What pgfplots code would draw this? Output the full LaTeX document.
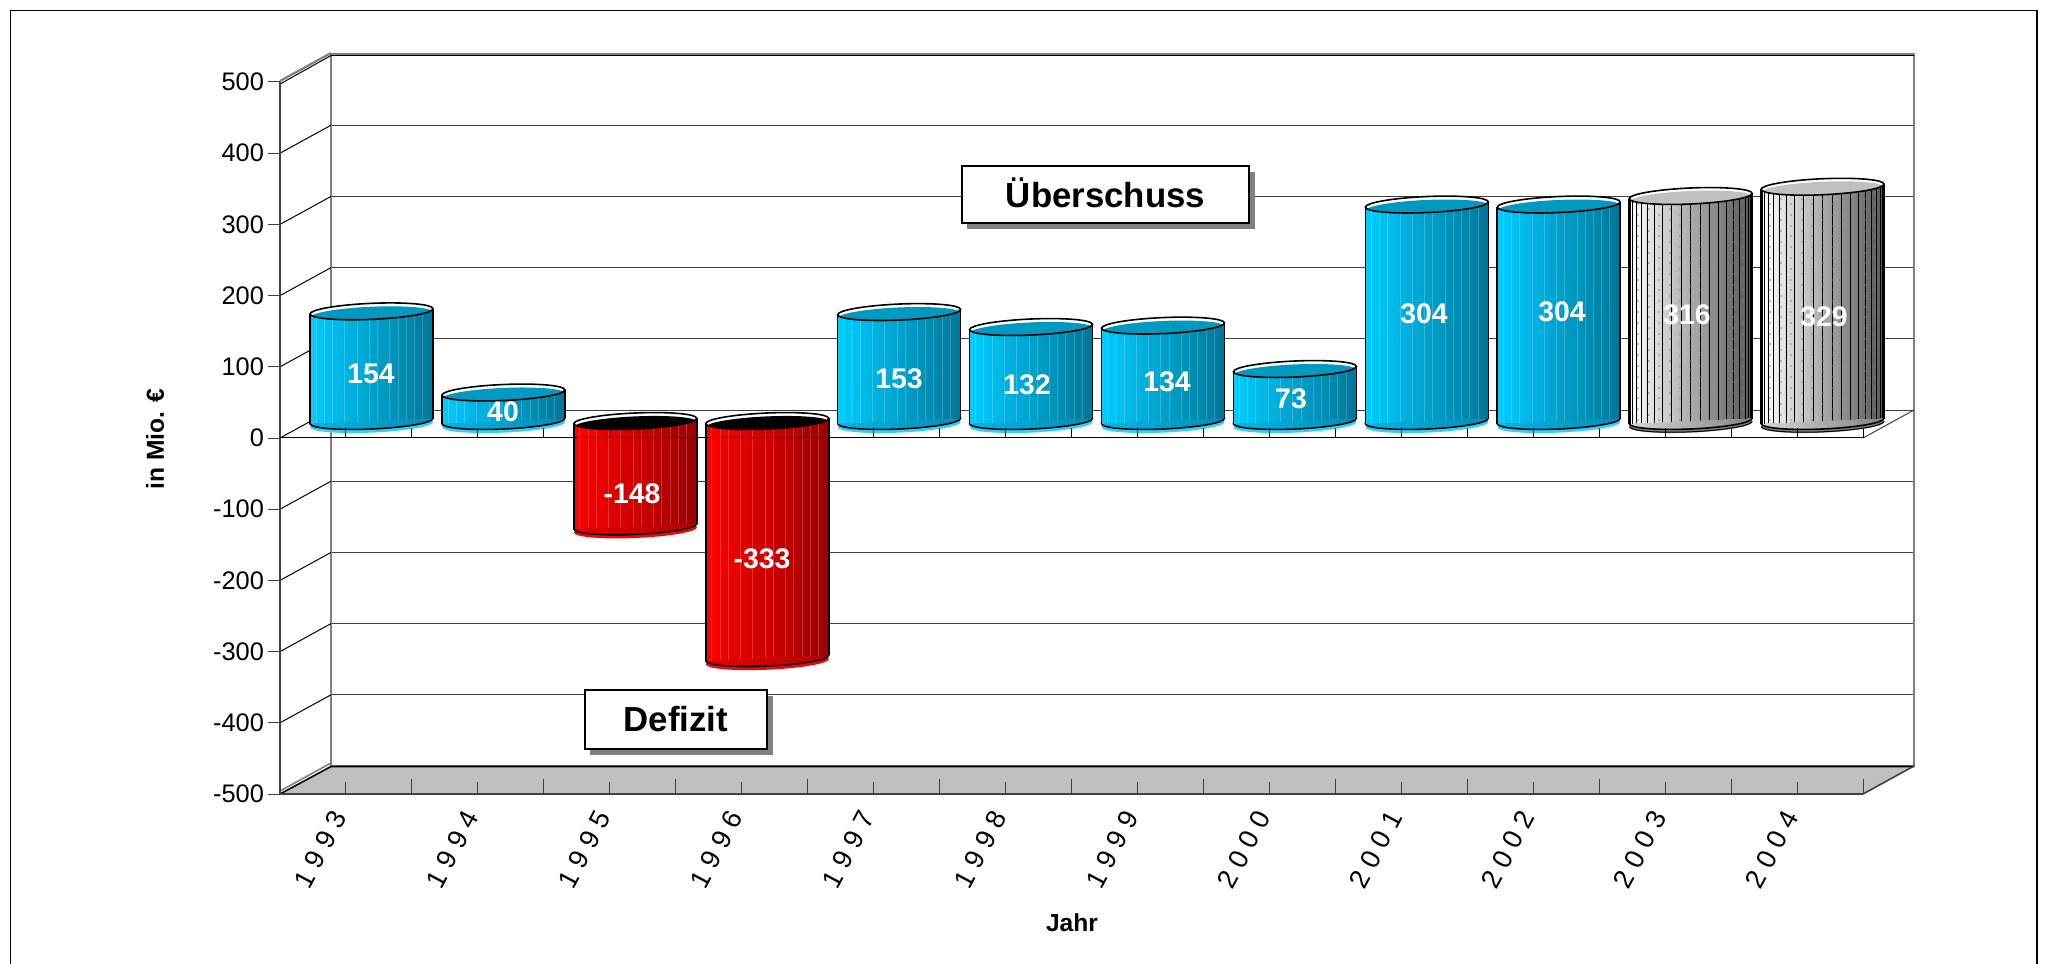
\documentclass[border=0pt]{standalone}
\usepackage{pgfplots}
\usepackage{pgfplotstable}
\pgfplotsset{compat=1.18}
\usepackage{fontspec}
\setmainfont{Liberation Sans}
\newfontfamily\spaced[LetterSpace=27]{Liberation Sans}

\definecolor{wall}{HTML}{808080}
\definecolor{floorgray}{HTML}{C0C0C0}
\definecolor{gridc}{HTML}{404040}
\definecolor{cyL}{HTML}{00CCFF}
\definecolor{cyR}{HTML}{00789A}
\definecolor{cyTop}{HTML}{0099BF}
\definecolor{reL}{HTML}{FF0000}
\definecolor{reR}{HTML}{9C0000}
\definecolor{grL}{HTML}{FFFFFF}
\definecolor{grR}{HTML}{5A5A5A}

% bar values, x = category position on the axis
\pgfplotstableread{
x v
0.5 154
1.5 40
4.5 153
5.5 132
6.5 134
7.5 73
8.5 304
9.5 304
}\cyandata
\pgfplotstableread{
x v
2.5 -148
3.5 -333
}\reddata
\pgfplotstableread{
x v
10.5 316
11.5 329
}\graydata

% cylinder caps, 1 px of the reference = 0.5pt
\newcommand\barell[2]{\pgfpathellipse{\pgfpoint{#1}{#2}}{\pgfpoint{30.75pt}{0pt}}{\pgfpoint{0pt}{4pt}}}
\newcommand\toprim[2]{%
  \pgftransformrotate{2.5}\pgfsetlinewidth{0.8pt}\pgfsetstrokecolor{black}%
  \pgfsetfillcolor{white}\barell{0pt}{0pt}\pgfusepath{fill}%
  \pgfscope\barell{0pt}{0pt}\pgfusepath{clip}%
  \pgfsetfillcolor{#1}\barell{0pt}{#2}\pgfusepath{fill}\endpgfscope
  \barell{0pt}{0pt}\pgfusepath{stroke}}
\newcommand\lowarc[1]{\pgfpathmoveto{\pgfpoint{-30.75pt}{#1}}\pgfpatharc{180}{360}{30.75pt and 4pt}}
\newcommand\botcap[2]{%
  \pgftransformrotate{2.5}\pgfsetlinewidth{0.8pt}\pgfsetstrokecolor{black}%
  \pgfsetfillcolor{#1}\barell{0pt}{-1.8pt}\pgfusepath{fill}%
  \pgfscope\barell{0pt}{0pt}\pgfshadepath{#2}{0}\endpgfscope
  \lowarc{0pt}\pgfusepath{stroke}}

\pgfdeclarehorizontalshading{cyanbody}{100bp}{color(0bp)=(cyL); color(100bp)=(cyR)}
\pgfdeclarehorizontalshading{redbody}{100bp}{color(0bp)=(reL); color(100bp)=(reR)}
\pgfdeclarehorizontalshading{graybody}{100bp}{color(0bp)=(grL); color(100bp)=(grR)}

\pgfdeclareplotmark{capcyan}{\toprim{cyTop}{-1.7pt}}
\pgfdeclareplotmark{capred}{\toprim{black}{-1.7pt}}
\pgfdeclareplotmark{capgray}{\toprim{floorgray}{-1.5pt}}
\pgfdeclareplotmark{botcyan}{\botcap{cyL!85!white}{cyanbody}}
\pgfdeclareplotmark{botred}{\botcap{reL}{redbody}}
\pgfdeclareplotmark{botgray}{\botcap{gray}{graybody}\lowarc{-1.4pt}\pgfsetlinewidth{0.5pt}\pgfusepath{stroke}}

\pgfplotsset{
  strip/.style={ycomb,no markers,forget plot,line cap=butt},
  body/.style={strip,line width=2.35pt,xshift={(#1-14.5)*2.05pt},yshift={(#1-14.5)*0.09pt}},
  seam/.style={strip,line width=0.5pt,white,opacity=0.2,xshift={(#1-14.5)*2.05pt},yshift={(#1-14.5)*0.09pt}},
  leftedge/.style={strip,black,line width=0.8pt,xshift=-30.75pt,yshift=-1.35pt},
  rightedge/.style={strip,black,line width=0.8pt,xshift=30.75pt,yshift=1.35pt},
  plane/.style={scale only axis,width=791.5pt,height=356pt,xmin=0,xmax=12,ymin=-500,ymax=500},
}

\begin{document}
\begin{tikzpicture}[x=0.5pt,y=-0.5pt]
\path[use as bounding box] (0,0) rectangle (2049,963);
\clip (0,0) rectangle (2049,963);
\draw[line width=0.6pt,black] (10.5,975) -- (10.5,10.5) -- (2037,10.5) -- (2037,975);

% back wall
\begin{axis}[plane,at={(165.5pt,-383pt)},anchor=south west,
  xtick=\empty,ytick={-500,-400,...,500},yticklabels={},
  major tick length=0pt,ymajorgrids,
  grid style={gridc,line width=0.5pt},
  axis line style={wall,line width=1.1pt}]
\end{axis}
\draw[black,line width=0.5pt] (331,55.5) -- (1914,55.5);
% left wall
\foreach \k in {0,...,8}
  \draw[black,line width=0.5pt] (280,{153.2+71.2*\k}) -- (331,{125.2+71.2*\k});
\draw[wall,line width=1.1pt] (280,81) -- (331,53);
\draw[black,line width=0.5pt] (281,83.5) -- (331,55.5);
% floor
\fill[floorgray] (280,794) -- (1863,794) -- (1914,766) -- (331,766) -- cycle;
\draw[wall,line width=0.8pt] (280,791) -- (331,763);
\draw[black,line width=0.8pt] (280,794) -- (331,766.5) -- (1914,766.5);
\draw[gridc,line width=0.8pt] (1863,794) -- (1914,766);
\draw[gridc,line width=0.5pt] (1863,438) -- (1914,410);

% front plane: y axis, floor edge, tick labels
\begin{axis}[plane,at={(140pt,-397pt)},anchor=south west,
  axis y line*=left,axis x line*=bottom,
  axis line style={-,gridc,line width=0.8pt},
  tick style={gridc,line width=0.5pt},
  xtick align=inside,ytick align=outside,major tick length=6pt,
  xtick={0.5,1.5,...,11.5},
  xticklabels={1993,1994,1995,1996,1997,1998,1999,2000,2001,2002,2003,2004},
  extra x ticks={1,2,...,12},extra x tick labels={},
  extra x tick style={major tick length=7.5pt,xtick align=inside},
  ytick={-500,-400,...,500},
  yticklabels={-500,-400,-300,-200,-100,0,100,200,300,400,500},
  yticklabel style={font=\fontsize{12.7}{13}\selectfont,inner sep=0pt,xshift=-1.8pt},
  xticklabel style={font=\fontsize{13.5}{14}\spaced,inner sep=0pt,anchor=east,yshift=-9.5pt,xshift=-3pt,rotate=62}]
\end{axis}

% bars stand half way between the front plane and the back wall
% the lower caps go first, in an axis of their own, as marks come last within an axis
\begin{axis}[plane,at={(152.75pt,-388.5pt)},anchor=south west,hide axis,clip=false]
\addplot[only marks,forget plot,mark=botcyan] table[x=x,y expr=0] {\cyandata};
\addplot[only marks,forget plot,mark=botred] table[x=x,y=v] {\reddata};
\addplot[only marks,forget plot,mark=botgray] table[x=x,y expr=0] {\graydata};
\end{axis}
\begin{axis}[plane,at={(152.75pt,-388.5pt)},anchor=south west,hide axis,clip=false]
\pgfplotsinvokeforeach{0,1,...,29}{
  \addplot[body=#1,cyL!\the\numexpr 100-#1*100/29\relax!cyR] table[x=x,y=v] {\cyandata};
  \addplot[body=#1,reL!\the\numexpr 100-#1*100/29\relax!reR] table[x=x,y=v] {\reddata};
  \addplot[body=#1,grL!\the\numexpr 100-#1*100/29\relax!grR] table[x=x,y=v] {\graydata};
}
\pgfplotsinvokeforeach{1,3,5,8,11,14,16,19,21,23,25,27}{
  \addplot[seam=#1] table[x=x,y=v] {\cyandata};
  \addplot[seam=#1] table[x=x,y=v] {\reddata};
}
% gray bars: ribs and dots
\pgfplotsinvokeforeach{-81,-72,...,81}{
  \addplot[strip,black,line width=0.5pt,xshift={30.5pt*sin(#1)},yshift={1.35pt*sin(#1)}] table[x=x,y=v] {\graydata};
}
\pgfplotsinvokeforeach{-5,-3,-1,1,3,5}{
  \addplot[strip,gray,opacity=0.45,line width=1pt,dash pattern=on 1pt off 4.4pt,xshift={#1*5.25pt}] table[x=x,y=v] {\graydata};
}
\pgfplotsinvokeforeach{-4,-2,0,2,4}{
  \addplot[strip,gray,opacity=0.45,line width=1pt,dash pattern=on 1pt off 4.4pt,dash phase=2.7pt,xshift={#1*5.25pt}] table[x=x,y=v] {\graydata};
}
% side edges
\addplot[leftedge] table[x=x,y=v] {\cyandata};
\addplot[rightedge] table[x=x,y=v] {\cyandata};
\addplot[leftedge] table[x=x,y=v] {\reddata};
\addplot[rightedge] table[x=x,y=v] {\reddata};
\addplot[leftedge] table[x=x,y=v] {\graydata};
\addplot[rightedge] table[x=x,y=v] {\graydata};
\addplot[only marks,forget plot,mark=capcyan] table[x=x,y=v] {\cyandata};
\addplot[only marks,forget plot,mark=capred] table[x=x,y expr=0] {\reddata};
\addplot[only marks,forget plot,mark=capgray] table[x=x,y=v] {\graydata};
\end{axis}

% front edge of the zero plane lies over the bars
\begin{axis}[plane,at={(140pt,-397pt)},anchor=south west,
  axis x line=middle,axis y line=none,
  axis line style={-,black,line width=0.5pt},
  xtick={0.5,1,...,12},xticklabels={},
  xtick align=inside,major tick length=5pt,
  tick style={black,line width=0.5pt}]
\end{axis}

% value labels
\tikzset{val/.style={white,font=\bfseries\fontsize{14.2}{15}\selectfont,inner sep=0pt}}
\node[val] at (371,374) {154};
\node[val] at (503,412) {40};
\node[val] at (632,494) {-148};
\node[val] at (762,559) {-333};
\node[val] at (899,379) {153};
\node[val] at (1027,385) {132};
\node[val] at (1167,382) {134};
\node[val] at (1291,399) {73};
\node[val] at (1424,314) {304};
\node[val] at (1562,312) {304};
\node[val] at (1687,315) {316};
\node[val] at (1824,317) {329};

% text boxes
\fill[wall] (967,172) rectangle (1255,229);
\draw[fill=white,line width=0.6pt] (962,166) rectangle (1249,223);
\node[font=\bfseries\fontsize{17.4}{18}\selectfont] at (1105.5,193) {Überschuss};
\fill[wall] (590,696) rectangle (773,755);
\draw[fill=white,line width=0.6pt] (585,690) rectangle (767,749);
\node[font=\bfseries\fontsize{17.4}{18}\selectfont] at (676,719) {Defizit};

% axis titles
\node[rotate=90,font=\bfseries\fontsize{12.3}{13}\selectfont] at (155,439) {in Mio. €};
\node[font=\bfseries\fontsize{12.3}{13}\selectfont] at (1072,923) {Jahr};
\end{tikzpicture}
\end{document}
